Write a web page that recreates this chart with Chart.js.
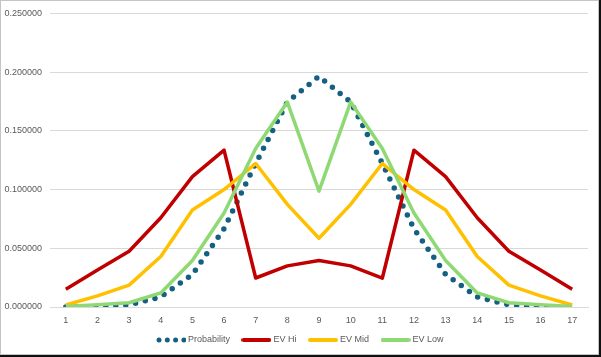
<!DOCTYPE html>
<html>
<head>
<meta charset="utf-8">
<script src="https://cdn.jsdelivr.net/npm/chart.js@4"></script>
<style>
  html, body { margin: 0; padding: 0; background: #fff; }
  #wrap { position: relative; width: 601px; height: 357px; overflow: hidden; }
  #c { position: absolute; left: 0; top: 0; }
  #frame { position: absolute; left: 0; top: 0; width: 599px; height: 355px; box-sizing: border-box; border: 1px solid #c4c4c4; pointer-events: none; }
  #rb { position: absolute; left: 599px; top: 0; width: 2px; height: 357px; background: #111; }
  #bb { position: absolute; left: 0; top: 355px; width: 601px; height: 2px; background: #111; }
</style>
</head>
<body>
<div id="wrap">
  <canvas id="c" width="601" height="357"></canvas>
  <div id="frame"></div><div id="rb"></div><div id="bb"></div>
</div>
<script>
const categories = ["1","2","3","4","5","6","7","8","9","10","11","12","13","14","15","16","17"];
const probability = [0.000015, 0.000244, 0.001831, 0.008545, 0.027771, 0.066650, 0.122192, 0.174561, 0.196381, 0.174561, 0.122192, 0.066650, 0.027771, 0.008545, 0.001831, 0.000244, 0.000015];
const evHi  = [0.0152, 0.0315, 0.0475, 0.0760, 0.1110, 0.1335, 0.0247, 0.0350, 0.0396, 0.0350, 0.0245, 0.1335, 0.1110, 0.0760, 0.0475, 0.0315, 0.0152];
const evMid = [0.0017, 0.0095, 0.0186, 0.0430, 0.0826, 0.1000, 0.1222, 0.0874, 0.0585, 0.0874, 0.1222, 0.1000, 0.0826, 0.0430, 0.0186, 0.0095, 0.0017];
const evLow = [0.0005, 0.0020, 0.0036, 0.0120, 0.0396, 0.0800, 0.1350, 0.1745, 0.0987, 0.1745, 0.1350, 0.0800, 0.0396, 0.0120, 0.0036, 0.0020, 0.0005];
const seriesNames = ["Probability", "EV Hi", "EV Mid", "EV Low"];
const yTicks = [0, 0.05, 0.10, 0.15, 0.20, 0.25];

const colors = ["#156082", "#C00000", "#FFC000", "#8ED973"];
const FONT = "'Liberation Sans', Arial, sans-serif";

function legendSymbol(color, dotted) {
  const cv = document.createElement('canvas');
  cv.width = 30; cv.height = 6;
  const g = cv.getContext('2d');
  g.fillStyle = color; g.strokeStyle = color;
  if (dotted) {
    for (let i = 0; i < 4; i++) {
      g.beginPath(); g.arc(3 + i * 8.3, 3, 2.5, 0, Math.PI * 2); g.fill();
    }
  } else {
    g.lineWidth = 4; g.lineCap = 'round';
    g.beginPath(); g.moveTo(2, 3); g.lineTo(28, 3); g.stroke();
  }
  return cv;
}

const seriesData = [probability, evHi, evMid, evLow];
const datasets = seriesNames.map((name, i) => ({
  label: name,
  data: seriesData[i],
  borderColor: colors[i],
  backgroundColor: colors[i],
  borderWidth: i === 0 ? 5.5 : 3.5,
  borderDash: i === 0 ? [0, 10] : [],
  borderCapStyle: i === 0 ? 'round' : 'butt',
  borderJoinStyle: 'round',
  pointRadius: 0,
  pointHoverRadius: 0,
  tension: 0,
  fill: false,
  order: 4 - i
}));

const legendNudge = {
  id: 'legendNudge',
  afterLayout(chart) {
    const lg = chart.legend;
    if (lg) { lg.top -= 2.5; lg.bottom -= 2.5; lg.left += 7; lg.right += 7; }
  }
};

new Chart(document.getElementById('c'), {
  type: 'line',
  data: { labels: categories, datasets },
  plugins: [legendNudge],
  options: {
    responsive: false,
    animation: false,
    devicePixelRatio: 1,
    layout: { padding: { left: 0, right: 13, top: 10, bottom: 0 } },
    plugins: {
      tooltip: { enabled: false },
      legend: {
        position: 'bottom',
        labels: {
          font: { family: FONT, size: 9 },
          color: '#595959',
          padding: 14,
          usePointStyle: true,
          pointStyleWidth: 25,
          sort: (a, b) => a.datasetIndex - b.datasetIndex,
          generateLabels: (chart) => chart.data.datasets.map((ds, i) => ({
            text: ds.label,
            datasetIndex: i,
            fillStyle: ds.borderColor,
            strokeStyle: ds.borderColor,
            fontColor: '#595959',
            lineWidth: 0,
            hidden: false,
            pointStyle: legendSymbol(ds.borderColor, i === 0)
          }))
        }
      }
    },
    scales: {
      x: {
        offset: true,
        grid: { display: false, drawTicks: false },
        border: { display: true, color: '#d9d9d9', width: 1 },
        ticks: { font: { family: FONT, size: 9 }, color: '#595959', padding: 8, maxRotation: 0, autoSkip: false },
        afterFit: (s) => { s.height = 17; }
      },
      y: {
        min: 0, max: 0.25,
        afterBuildTicks: (s) => { s.ticks = yTicks.map(v => ({ value: v })); },
        grid: { color: '#d9d9d9', lineWidth: 1, drawTicks: false },
        border: { display: false },
        ticks: {
          font: { family: FONT, size: 9 }, color: '#595959', padding: 8,
          callback: (v) => Number(v).toFixed(6)
        },
        afterFit: (s) => { s.width = 50; }
      }
    }
  }
});
</script>
</body>
</html>
